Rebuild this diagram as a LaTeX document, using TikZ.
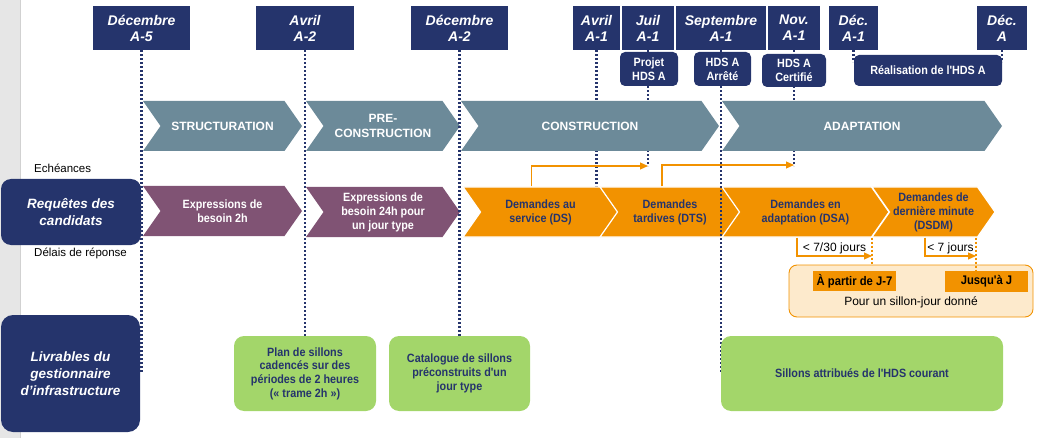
\documentclass[tikz,border=0pt]{standalone}
\usepackage{fontspec}
\setmainfont{Liberation Sans}
\newfontfamily\condfont{Liberation Sans}[FakeStretch=0.9]
\usetikzlibrary{shapes.symbols,arrows.meta}
\definecolor{hdsnavy}{RGB}{37,52,108}
\definecolor{phasegray}{RGB}{108,138,153}
\definecolor{besoinpurple}{RGB}{128,83,116}
\definecolor{demorange}{RGB}{242,146,0}
\definecolor{livgreen}{RGB}{163,214,106}
\definecolor{sillonpeach}{RGB}{253,234,204}
\definecolor{stripgray}{RGB}{230,230,230}

\begin{document}
\begin{tikzpicture}[x=1pt, y=-1pt,
  hdr/.style={fill=hdsnavy, text=white, font=\bfseries\itshape\fontsize{14}{16}\selectfont, align=center, inner sep=0pt, minimum height=44pt},
  jalon/.style={fill=hdsnavy, rounded corners=5pt, text=white, font=\condfont\bfseries\fontsize{12}{14}\selectfont, align=center, inner sep=0pt},
  phase/.style={signal, signal from=west, signal to=east, signal pointer angle=110, fill=phasegray, text=white, font=\bfseries\fontsize{12}{15.5}\selectfont, align=center, inner sep=0pt, minimum height=50pt},
  besoin/.style={phase, fill=besoinpurple, font=\condfont\bfseries\fontsize{12}{14}\selectfont},
  demande/.style={phase, fill=demorange, draw=white, line width=1.2pt, text=hdsnavy, font=\condfont\bfseries\fontsize{12}{14}\selectfont},
  livrable/.style={fill=livgreen, rounded corners=10pt, text=hdsnavy, font=\condfont\bfseries\fontsize{12}{13.7}\selectfont, align=center, inner sep=0pt, minimum height=75pt},
  titre/.style={fill=hdsnavy, text=white, font=\bfseries\itshape\fontsize{13.5}{17}\selectfont, align=center, inner sep=0pt},
  legende/.style={font=\fontsize{11.5}{13}\selectfont, anchor=west, inner sep=0pt},
  timeline/.style={hdsnavy, line width=2.4pt, dash pattern=on 2.2pt off 1.8pt},
  reqarrow/.style={demorange, line width=1.1pt, -{Triangle[length=8pt,width=7pt]}},
  limite/.style={demorange, line width=2.2pt, dash pattern=on 2.2pt off 1.8pt},
  tag/.style={fill=demorange, font=\condfont\bfseries\fontsize{12.5}{14}\selectfont, inner sep=0pt, minimum width=83pt, minimum height=20pt}
]
\useasboundingbox (0,0) rectangle (1040,438);
\fill[stripgray] (0,0) rectangle (20,438);
\draw[black!18, line width=0.8pt] (20,0) -- (20,438);

% mois
\node (dec5) at (141.5,28) [hdr, minimum width=97pt] {Décembre\\A-5};
\node (avr2) at (305,28) [hdr, minimum width=98pt] {Avril\\A-2};
\node (dec2) at (459.5,28) [hdr, minimum width=97pt] {Décembre\\A-2};
\node (avr1) at (596.5,28) [hdr, minimum width=47pt] {Avril\\A-1};
\node (juil) at (648,28) [hdr, minimum width=52pt] {Juil\\A-1};
\node (sept) at (721,28) [hdr, minimum width=90pt] {Septembre\\A-1};
\node (nov) at (794,28) [hdr, minimum width=52pt] {Nov.\\A-1};
\node (decA1) at (853.5,28) [hdr, minimum width=49pt] {Déc.\\A-1};
\node (decA) at (1002,28) [hdr, minimum width=50pt] {Déc.\\A};

\draw[timeline] (avr1.south) -- ++(0,137);
\draw[timeline] (juil.south) -- ++(0,116);
\draw[timeline] (nov.south) -- ++(0,116);

% phases
\node (struct) at (222.5,126) [phase, minimum width=159pt] {STRUCTURATION};
\node (precons) at (383,126) [phase, minimum width=154pt] {PRE-\\CONSTRUCTION};
\node (constr) at (590,126) [phase, minimum width=258pt] {CONSTRUCTION};
\node (adapt) at (862,126) [phase, minimum width=280pt] {ADAPTATION};

% requetes
\node (bes2h) at (222.5,211) [besoin, minimum width=159pt] {Expressions de\\besoin 2h};
\node (bes24) at (383,212) [besoin, minimum width=154pt] {Expressions de\\besoin 24h pour\\un jour type};
\node (ds) at (540.5,212) [demande, minimum width=155pt] {Demandes au\\service (DS)};
\node (dts) at (670,212) [demande, minimum width=140pt] {Demandes\\tardives (DTS)};
\node (dsa) at (805.5,212) [demande, minimum width=167pt] {Demandes en\\adaptation (DSA)};
\node (dsdm) at (933.5,212) [demande, minimum width=123pt] {Demandes de\\dernière minute\\(DSDM)};

\node (reqbox) at (71,212) [titre, rounded corners=10pt, minimum width=140pt, minimum height=66pt] {Requêtes des\\candidats};
\node (livbox) at (70.5,373.5) [titre, rounded corners=12pt, minimum width=139pt, minimum height=117pt] {Livrables du\\gestionnaire\\d'infrastructure};

\node (echeances) at (34,168) [legende] {Echéances};
\node (delais) at (34,253) [legende] {Délais de réponse};

\draw[timeline] (dec5.south) -- ++(0,323);
\draw[timeline] (avr2.south) -- ++(0,286);
\draw[timeline] (dec2.south) -- ++(0,286);
\draw[timeline] (sept.south) -- ++(0,323);
\draw[timeline] (decA1.south) -- ++(0,12);
\draw[timeline] (decA.south) -- ++(0,12);

% jalons HDS
\node (projet) at (649,69) [jalon, minimum width=58pt, minimum height=34pt] {Projet\\HDS A};
\node (arrete) at (722.5,69) [jalon, minimum width=57pt, minimum height=34pt] {HDS A\\Arrêté};
\node (certif) at (794,70.5) [jalon, minimum width=64pt, minimum height=33pt] {HDS A\\Certifié};
\node (realis) at (928,70.5) [jalon, minimum width=148pt, minimum height=31pt] {Réalisation de l'HDS A};

% echeances
\coordinate (juilend) at (648,166);
\coordinate (novend) at (794,165);
\draw[reqarrow] ([xshift=-9pt]ds.north) |- (juilend);
\draw[reqarrow] ([xshift=-8pt]dts.north) |- (novend);

% delais
\node (sillon) at (911,291) [draw=demorange, fill=sillonpeach, rounded corners=8pt, line width=0.9pt, minimum width=244pt, minimum height=52pt] {};
\node (apartir) at (854.5,281) [tag] {À partir de J-7};
\node (jusqua) at (986.5,281.5) [tag, minimum height=21pt] {Jusqu'à J};
\node (pourjour) at (911,302) [font=\fontsize{12}{14}\selectfont, inner sep=0pt] {Pour un sillon-jour donné};
\coordinate (dsalim) at (872,256);
\coordinate (dsdmlim) at (976,256);
\draw[limite] (dsa.south -| dsalim) -- (dsalim |- sillon.north);
\draw[limite] (dsdm.south -| dsdmlim) -- (dsdmlim |- jusqua.north);
\draw[reqarrow] ([xshift=-8.5pt]dsa.south) |- node[pos=0.75, above, inner sep=1.5pt, text=black, font=\fontsize{12}{14}\selectfont] {< 7/30 jours} (dsalim);
\draw[reqarrow] ([xshift=-8.5pt]dsdm.south) |- node[pos=0.75, above, inner sep=1.5pt, text=black, font=\fontsize{12}{14}\selectfont] {< 7 jours} (dsdmlim);

% livrables
\node (plan) at (305,373.5) [livrable, minimum width=142pt] {Plan de sillons\\cadencés sur des\\périodes de 2 heures\\(«~trame 2h~»)};
\node (catal) at (459.5,373.5) [livrable, minimum width=141pt] {Catalogue de sillons\\préconstruits d'un\\jour type};
\node (attrib) at (862,373.5) [livrable, minimum width=282pt] {Sillons attribués de l'HDS courant};
\end{tikzpicture}
\end{document}
